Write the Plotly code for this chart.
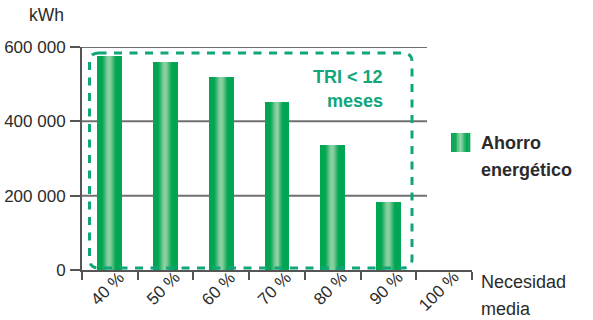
import numpy as np
import plotly.graph_objects as go

# Data
categories = ["40 %", "50 %", "60 %", "70 %", "80 %", "90 %", "100 %"]
ahorro_kwh = [575000, 560000, 520000, 453000, 337000, 184000, None]
y_ticks = [0, 200000, 400000, 600000]
y_tick_text = ["0", "200 000", "400 000", "600 000"]

W, H = 593, 320
ML, MR, MT, MB = 82, 121, 47, 50
PW, PH = W - ML - MR, H - MT - MB

FONT = "Liberation Sans, Arial, sans-serif"
TXT = "#2b2b2b"
AXIS = "#555555"
GRID = "#707070"
TEAL = "#10a67c"
EDGE = np.array([0x00, 0xA6, 0x51])
LIGHT = np.array([0x8E, 0xD0, 0xA3])


def px(x):
    return (x - ML) / PW


def py(y):
    return (H - MB - y) / PH


def shade(t):
    """Colour across a bar, t in [-1, 1]: dark edges, light middle."""
    f = max(0.0, 1.0 - abs(t) / 0.65)
    f = f * f * (3 - 2 * f)
    c = EDGE + (LIGHT - EDGE) * f
    return "rgb(%d,%d,%d)" % tuple(int(round(v)) for v in c)


fig = go.Figure()

# Bars drawn as thin vertical strips to give the cylindrical shading
bar_w = 0.43
n_strips = 24
sw = bar_w / n_strips
for i in range(n_strips):
    t = -1 + (i + 0.5) * 2 / n_strips
    fig.add_trace(go.Bar(
        x=categories, y=ahorro_kwh,
        width=sw * 1.08, offset=-bar_w / 2 + i * sw,
        marker=dict(color=shade(t), line=dict(width=0)),
        showlegend=False, hoverinfo="skip",
    ))

shapes = []
# Horizontal grid lines (stop short of the right end of the axis)
for v in y_ticks[1:]:
    shapes.append(dict(type="line", xref="paper", yref="y",
                       x0=0, x1=px(427), y0=v, y1=v,
                       line=dict(color=GRID, width=2), layer="below"))

# Dashed rounded box around the bars with payback under 12 months
x0, x1, y0, y1, r = px(89.5), px(412), py(268), py(53), 9
rx, ry = r / PW, r / PH
path = (f"M {x0 + rx},{y1} L {x1 - rx},{y1} Q {x1},{y1} {x1},{y1 - ry} "
        f"L {x1},{y0 + ry} Q {x1},{y0} {x1 - rx},{y0} "
        f"L {x0 + rx},{y0} Q {x0},{y0} {x0},{y0 + ry} "
        f"L {x0},{y1 - ry} Q {x0},{y1} {x0 + rx},{y1} Z")
shapes.append(dict(type="path", xref="paper", yref="paper", path=path,
                   line=dict(color=TEAL, width=3, dash="8px,7.5px"),
                   layer="above"))

# Legend swatch with the same shading
lx0, lx1, ly0, ly1 = 451, 470, 133, 152
n_sw = 12
for i in range(n_sw):
    t = -1 + (i + 0.5) * 2 / n_sw
    a = lx0 + (lx1 - lx0) * i / n_sw
    b = lx0 + (lx1 - lx0) * (i + 1) / n_sw
    shapes.append(dict(type="rect", xref="paper", yref="paper",
                       x0=px(a), x1=px(b + 0.3), y0=py(ly1), y1=py(ly0),
                       fillcolor=shade(t), line=dict(width=0)))

annotations = [
    dict(text="kWh", x=px(66), y=py(15), xanchor="right", yanchor="middle",
         font=dict(size=17.5, color=TXT)),
    dict(text="Necesidad", x=px(479), y=py(282), xanchor="left", yanchor="middle",
         font=dict(size=18, color=TXT)),
    dict(text="media", x=px(479), y=py(309), xanchor="left", yanchor="middle",
         font=dict(size=18, color=TXT)),
    dict(text="<b>TRI &lt; 12</b>", x=px(385), y=py(77), xanchor="right",
         yanchor="middle", font=dict(size=18, color=TEAL)),
    dict(text="<b>meses</b>", x=px(385), y=py(101), xanchor="right",
         yanchor="middle", font=dict(size=18, color=TEAL)),
    dict(text="<b>Ahorro</b>", x=px(479), y=py(143), xanchor="left",
         yanchor="middle", font=dict(size=18, color=TXT)),
    dict(text="<b>energético</b>", x=px(479), y=py(170), xanchor="left",
         yanchor="middle", font=dict(size=18, color=TXT)),
]
for a in annotations:
    a.update(xref="paper", yref="paper", showarrow=False)

# Category labels, rotated, with their upper-right end at each category
for cat in categories:
    annotations.append(dict(
        text=cat, xref="x", x=cat, yref="paper", y=py(265),
        xanchor="right", yanchor="top", xshift=21, textangle=-45,
        showarrow=False, font=dict(size=17, color=TXT),
    ))

fig.update_layout(
    width=W, height=H,
    margin=dict(l=ML, r=MR, t=MT, b=MB, pad=0, autoexpand=False),
    paper_bgcolor="white", plot_bgcolor="white",
    barmode="overlay", bargap=0,
    font=dict(family=FONT, color=TXT),
    shapes=shapes, annotations=annotations,
    showlegend=False,
    xaxis=dict(
        type="category", categoryorder="array", categoryarray=categories,
        range=[-0.5, len(categories) - 0.5], automargin=False,
        showgrid=False, zeroline=False,
        showline=True, linecolor=AXIS, linewidth=2,
        ticks="outside", tickson="boundaries", ticklen=8,
        tickcolor=AXIS, tickwidth=2, showticklabels=False,
    ),
    yaxis=dict(
        range=[0, 600000], tickvals=y_ticks, ticktext=y_tick_text,
        automargin=False,
        showgrid=False, zeroline=False,
        showline=True, linecolor=AXIS, linewidth=2,
        ticks="outside", ticklen=10, tickcolor=AXIS, tickwidth=2,
        ticklabelstandoff=1,
        tickfont=dict(size=17, color=TXT),
    ),
)

fig.write_html("out.html")
